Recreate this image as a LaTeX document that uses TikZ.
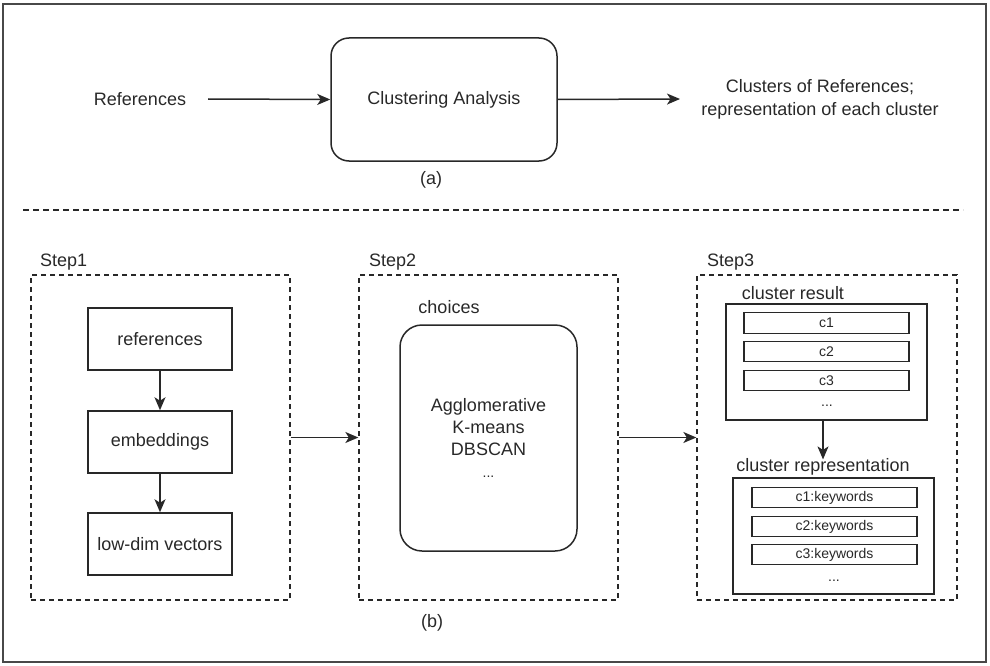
\documentclass[tikz,border=0pt]{standalone}
\usepackage{fontspec}
\setmainfont{Liberation Sans}
\usetikzlibrary{arrows.meta,positioning}
\definecolor{ink}{RGB}{40,40,40}

\tikzset{
  every node/.style={text=ink, font=\fontsize{18}{22}\selectfont},
  plainbox/.style={draw=ink, line width=1.5pt, inner sep=0pt, align=center},
  roundbox/.style={plainbox, rounded corners=18pt},
  stepbox/.style={draw=ink, line width=1.3pt, dash pattern=on 5pt off 4pt, inner sep=0pt},
  smallbox/.style={plainbox, line width=1.4pt, minimum width=165pt, minimum height=20.5pt,
    font=\fontsize{14}{16}\selectfont},
  flow/.style={draw=ink, line width=1.5pt, -{Stealth[length=13pt,width=11pt,inset=3.5pt]}},
  caption/.style={inner sep=0pt}
}

\begin{document}
\begin{tikzpicture}[x=1pt, y=-1pt]
    \useasboundingbox (0,0) rectangle (990,666);
    \draw[ink!85, line width=1.6pt] (3,4) rectangle (986,662);

    % (a) overview
    \node[caption] (refs) at (140,99) {References};
    \node[roundbox, minimum width=226pt, minimum height=123pt] (ca) at (444,99.5) {Clustering Analysis};
    \node[caption, align=center, font=\fontsize{18}{23}\selectfont] (out) at (820,99)
      {Clusters of References;\\representation of each cluster};
    \node[caption] (capa) at (431,180) {(a)};
    \coordinate (refsend) at (208,99);
    \coordinate (outend) at (680,99);
    \draw[flow] (refsend) -- (ca.west);
    \draw[flow] (ca.east) -- (outend);

    \coordinate (sepl) at (23,210);
    \coordinate (sepr) at (963,210);
    \draw[ink, line width=1.3pt, dash pattern=on 6pt off 4pt] (sepl) -- (sepr);

    % (b) steps
    \node[stepbox, minimum width=259pt, minimum height=325pt] (step1) at (160.5,437.5) {};
    \node[stepbox, minimum width=259pt, minimum height=325pt] (step2) at (488.5,437.5) {};
    \node[stepbox, minimum width=260pt, minimum height=325pt] (step3) at (827,437.5) {};
    \node[caption, anchor=west] (s1lab) at (40,262) {Step1};
    \node[caption, anchor=west] (s2lab) at (369,262) {Step2};
    \node[caption, anchor=west] (s3lab) at (707,262) {Step3};

    % step 1
    \node[plainbox, minimum width=144pt, minimum height=62pt] (ref) at (160,339) {references};
    \node[plainbox, minimum width=144pt, minimum height=62pt] (emb) at (160,442) {embeddings};
    \node[plainbox, minimum width=144pt, minimum height=62pt] (low) at (160,544) {low-dim vectors};
    \draw[flow] (ref) -- (emb);
    \draw[flow] (emb) -- (low);

    % step 2
    \node[caption] (choices) at (449,307) {choices};
    \node[roundbox, rounded corners=22pt, minimum width=177pt, minimum height=226pt] (algo) at (488.5,438)
      {Agglomerative\\K-means\\DBSCAN\\\fontsize{14}{16}\selectfont ...};

    % step 3
    \node[caption] (reslab) at (793,293) {cluster result};
    \node[plainbox, minimum width=201pt, minimum height=116pt] (res) at (826.5,362) {};
    \node[smallbox] (c1) at (826.5,323) {c1};
    \node[smallbox] (c2) at (826.5,351.5) {c2};
    \node[smallbox] (c3) at (826.5,380.5) {c3};
    \node[caption, font=\fontsize{14}{16}\selectfont] (cdots) at (827,406) {...};

    \node[caption] (replab) at (823,467) {cluster representation};
    \node[plainbox, minimum width=201pt, minimum height=116pt] (rep) at (833.5,536) {};
    \node[smallbox] (k1) at (834.5,497.5) {c1:keywords};
    \node[smallbox] (k2) at (834.5,526.5) {c2:keywords};
    \node[smallbox] (k3) at (834.5,554.5) {c3:keywords};
    \node[caption, font=\fontsize{14}{16}\selectfont] (kdots) at (834,581) {...};
    \draw[flow] (res.south -| replab.north) -- ([yshift=-1pt]replab.north);

    \draw[flow] (step1.east) -- (step2.west);
    \draw[flow] (step2.east) -- (step3.west);
    \node[caption] (capb) at (432,623) {(b)};
\end{tikzpicture}
\end{document}
